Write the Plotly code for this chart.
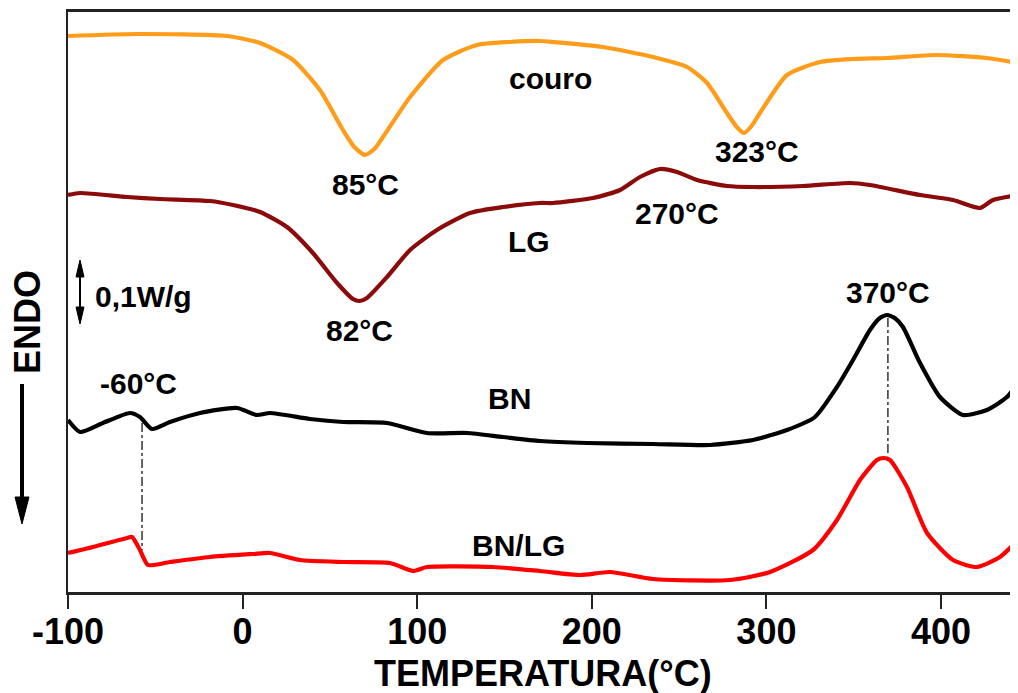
import plotly.graph_objects as go

# Temperature (°C) and heat flow (a.u., ENDO down)
couro_T = [-100, -60.5, -8.9, 10.0, 28.9, 44.3, 57.5, 64.0, 70.1, 75.5, 80.4, 95.9, 114.8, 134.2,
           153.2, 170.3, 177.8, 206.4, 235.1, 254.5, 266.0, 277.4, 283.0, 287.2, 291.5, 296.3,
           311.8, 330.7, 349.6, 369.1, 397.7, 426.3, 444.1]
couro_Y = [5.56, 5.58, 5.56, 5.49, 5.32, 5.02, 4.62, 4.45, 4.37, 4.43, 4.55, 4.95, 5.32, 5.47,
           5.50, 5.51, 5.50, 5.45, 5.35, 5.25, 5.09, 4.79, 4.65, 4.59, 4.66, 4.79,
           5.17, 5.30, 5.33, 5.34, 5.37, 5.34, 5.29]

lg_T = [-100, -93.1, -66.2, -47.3, -18.7, -5.5, 10.0, 25.4, 40.3, 54.1, 63.2, 67.0, 71.2, 82.7,
        95.9, 111.3, 130.2, 149.1, 170.3, 177.8, 200.7, 216.2, 227.6, 239.1, 248.8, 260.3,
        277.4, 292.3, 321.0, 347.9, 359.3, 388.0, 406.9, 422.3, 429.8, 444.1]
lg_Y = [3.97, 3.99, 3.95, 3.93, 3.91, 3.87, 3.80, 3.65, 3.39, 3.09, 2.93, 2.91, 2.94, 3.15,
        3.42, 3.62, 3.79, 3.85, 3.89, 3.89, 3.94, 4.02, 4.15, 4.23, 4.20, 4.12,
        4.06, 4.05, 4.06, 4.09, 4.07, 3.97, 3.92, 3.84, 3.92, 3.97]

bn_T = [-100, -93.1, -80.0, -64.5, -58.8, -51.9, -41.6, -24.4, -3.2, 8.2, 15.7, 38.6, 57.5,
        82.7, 105.6, 128.5, 149.1, 170.3, 197.3, 235.1, 267.7, 292.3, 311.8, 327.8, 340.4,
        349.6, 359.3, 365.0, 369.1, 373.5, 378.2, 388.0, 399.4, 412.6, 426.3, 437.8, 444.1]
bn_Y = [1.72, 1.60, 1.69, 1.79, 1.75, 1.63, 1.70, 1.79, 1.84, 1.77, 1.79, 1.73, 1.70,
        1.69, 1.59, 1.59, 1.55, 1.51, 1.49, 1.48, 1.47, 1.52, 1.62, 1.75, 2.05,
        2.32, 2.62, 2.74, 2.77, 2.74, 2.65, 2.29, 1.95, 1.77, 1.82, 1.95, 2.09]

bnlg_T = [-100, -85.7, -66.2, -63.3, -58.8, -54.2, -41.6, -18.7, 6.0, 15.7, 32.9, 57.5, 84.4,
          97.6, 105.6, 143.4, 170.3, 193.2, 210.4, 235.1, 279.2, 302.1, 326.7, 340.4, 353.6,
          363.3, 367.0, 370.8, 380.5, 392.0, 406.9, 420.6, 433.8, 444.1]
bnlg_Y = [0.39, 0.45, 0.54, 0.55, 0.42, 0.27, 0.30, 0.35, 0.38, 0.39, 0.32, 0.30, 0.29,
          0.21, 0.25, 0.25, 0.21, 0.17, 0.20, 0.13, 0.12, 0.20, 0.42, 0.72, 1.12,
          1.32, 1.34, 1.32, 1.05, 0.59, 0.32, 0.25, 0.35, 0.52]

# guide lines (temperature, heat-flow span)
guide1_T = [-57.6, -57.6]
guide1_Y = [1.69, 0.42]
guide2_T = [369.6, 369.6]
guide2_Y = [2.74, 1.39]

x_ticks = [-100, 0, 100, 200, 300, 400]

FONT = "Liberation Sans, Arial, sans-serif"

# page body has an 8px margin; figure sized so plot area lands where the reference has it
W, H = 1010, 685
ML, MT, MB = 60, 4, 101
PW, PH = W - ML, H - MT - MB  # 950 x 580

fig = go.Figure()
series = [
    (couro_T, couro_Y, "#ff9c1a", "couro"),
    (lg_T, lg_Y, "#8b0a0a", "LG"),
    (bn_T, bn_Y, "#000000", "BN"),
    (bnlg_T, bnlg_Y, "#ff0000", "BN/LG"),
]
for xs, ys, col, name in series:
    fig.add_trace(go.Scatter(x=xs, y=ys, mode="lines", name=name,
                             line=dict(color=col, width=4.2, shape="spline", smoothing=0.6)))
for gx, gy in [(guide1_T, guide1_Y), (guide2_T, guide2_Y)]:
    fig.add_trace(go.Scatter(x=gx, y=gy, mode="lines", showlegend=False,
                             line=dict(color="#000000", width=1.2, dash="dashdot")))

labels = [
    ("couro", 176.1, 5.14), ("85°C", 70.1, 4.08), ("323°C", 294.6, 4.41),
    ("LG", 164.0, 3.51), ("270°C", 248.8, 3.79), ("82°C", 66.8, 2.62),
    ("-60°C", -59.4, 2.09), ("BN", 152.6, 1.94), ("370°C", 369.6, 3.00),
    ("BN/LG", 158.3, 0.47), ("0,1W/g", -56.5, 2.96),
]
for txt, x, y in labels:
    fig.add_annotation(x=x, y=y, text=f"<b>{txt}</b>", showarrow=False,
                       font=dict(family=FONT, size=30, color="#000000"),
                       xanchor="center", yanchor="middle")

# helpers: reference screen pixels -> paper coords
def px(xp):
    return (xp - 68) / PW

def py(yp):
    return (592 - yp) / PH

# ENDO text and arrow
fig.add_annotation(x=px(27), y=py(322), xref="paper", yref="paper", text="<b>ENDO</b>",
                   showarrow=False, textangle=-90, xanchor="center", yanchor="middle",
                   font=dict(family=FONT, size=36, color="#000000"))
# x-axis title
fig.add_annotation(x=0.5, y=py(673), xref="paper", yref="paper",
                   text="<b>TEMPERATURA(°C)</b>", showarrow=False,
                   xanchor="center", yanchor="middle",
                   font=dict(family=FONT, size=36, color="#000000"))

shapes = [
    dict(type="line", xref="paper", yref="paper", x0=px(22), x1=px(22), y0=py(384), y1=py(500),
         line=dict(color="#000000", width=4)),
    dict(type="path", xref="paper", yref="paper",
         path=f"M {px(15)} {py(497)} L {px(29)} {py(497)} L {px(22)} {py(524)} Z",
         fillcolor="#000000", line=dict(color="#000000", width=1)),
    dict(type="line", xref="paper", yref="paper", x0=px(80), x1=px(80), y0=py(272), y1=py(311),
         line=dict(color="#000000", width=2)),
    dict(type="path", xref="paper", yref="paper",
         path=f"M {px(76)} {py(277)} L {px(84)} {py(277)} L {px(80)} {py(260)} Z",
         fillcolor="#000000", line=dict(color="#000000", width=1)),
    dict(type="path", xref="paper", yref="paper",
         path=f"M {px(76)} {py(307)} L {px(84)} {py(307)} L {px(80)} {py(324)} Z",
         fillcolor="#000000", line=dict(color="#000000", width=1)),
]
fig.update_layout(shapes=shapes)

fig.update_layout(
    width=W, height=H,
    margin=dict(l=ML, r=0, t=MT, b=MB),
    paper_bgcolor="white", plot_bgcolor="white",
    showlegend=False,
    font=dict(family=FONT, color="#000000"),
    xaxis=dict(range=[-100, 444.1], tickvals=x_ticks, ticktext=[f"<b>{v}</b>" for v in x_ticks],
               showgrid=False, zeroline=False, showline=True, mirror=True,
               linecolor="#222222", linewidth=2.5, ticks="outside", ticklen=14, tickwidth=2,
               tickcolor="#222222", tickfont=dict(family=FONT, size=36, color="#000000"),
               ticklabelstandoff=-8),
    yaxis=dict(range=[0, 5.8], showgrid=False, zeroline=False, showline=True,
               linecolor="#222222", linewidth=2, showticklabels=False, ticks=""),
)

fig.write_html("out.html")
